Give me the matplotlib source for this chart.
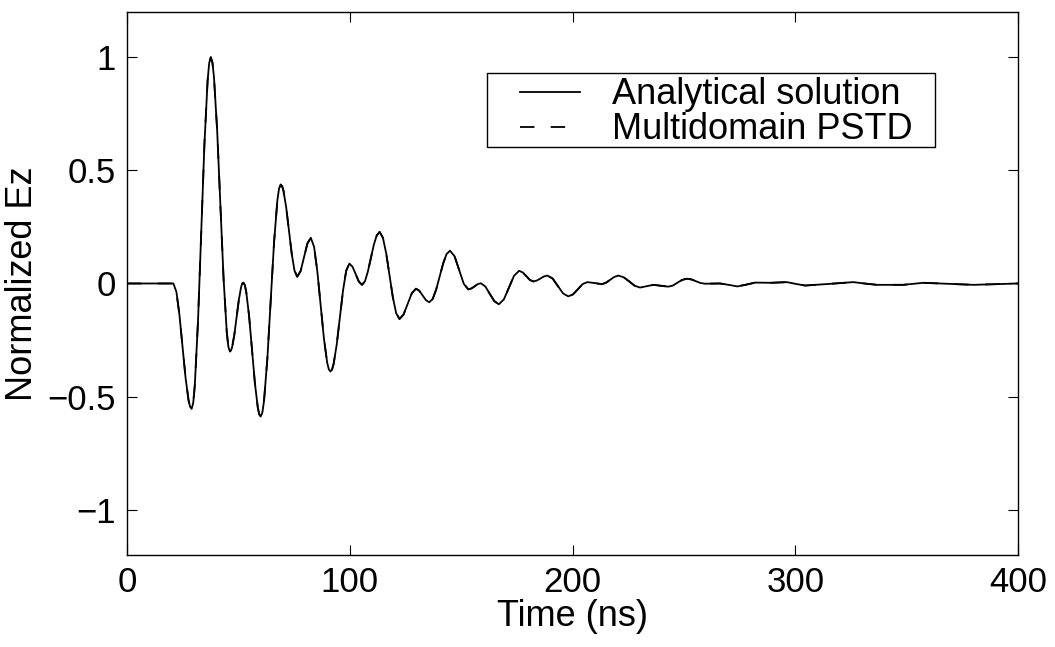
import matplotlib
matplotlib.use("Agg")
import matplotlib.pyplot as plt
from matplotlib.patches import Rectangle

# -----------------------------
# Data (time in ns, normalized Ez)
# -----------------------------
time_ns = [
    0, 20.8, 22.17, 23.53, 24.9, 26.27, 27.63, 28.32, 29.0, 29.72,
    30.43, 31.87, 33.3, 34.73, 36.17, 36.88, 37.6, 38.32,
    39.03, 40.47, 41.9, 43.33, 44.77, 45.48, 46.2, 46.7,
    47.2, 48.2, 49.2, 50.2, 51.2, 51.7, 52.2, 52.85,
    53.5, 54.8, 56.1, 57.4, 58.7, 59.35, 60.0, 60.75,
    61.5, 63.0, 64.5, 66.0, 67.5, 68.25, 69.0, 69.62,
    70.23, 71.47, 72.7, 73.93, 75.17, 76.4,
    77.93, 79.45, 80.98, 82.5,
    83.97, 85.43, 86.9, 88.37, 89.83, 90.57, 91.3, 92.01,
    92.72, 94.13, 95.55, 96.97, 98.38, 99.8,
    101.23, 102.65, 104.08, 105.5,
    106.82, 108.13, 109.45, 110.77, 112.08, 113.4,
    114.88, 116.37, 117.85, 119.33, 120.82, 122.3,
    124.15, 126.0, 127.85, 129.7,
    131.2, 132.7, 134.2, 135.7,
    137.25, 138.8, 140.35, 141.9, 143.45, 145.0,
    147.05, 149.1, 151.15, 153.2,
    154.6, 156.0, 157.4, 158.8,
    160.83, 162.85, 164.88, 166.9,
    169.18, 171.45, 173.73, 176.0,
    177.6, 179.2, 180.8, 182.4,
    183.98, 185.55, 187.13, 188.7,
    191.05, 193.4, 195.75, 198.1,
    200.23, 202.35, 204.48, 206.6,
    209.85, 213.1,
    214.98, 216.85, 218.73, 220.6,
    223.03, 225.45, 227.88, 230.3,
    233.3, 236.3, 239.65, 243.0,
    245.08, 247.15, 249.23, 251.3,
    253.35, 255.4, 257.45, 259.5,
    266.2, 270.1, 274.0, 278.0, 282.0, 289.0, 296.2, 300.3, 304.4,
    315.0, 326.0, 331.0, 336.6, 348.4, 357.5, 368.0, 380.0, 390.0, 400.0,
]

ez_analytical = [
    0, 0, -0.037, -0.139, -0.277, -0.416, -0.517, -0.545, -0.554, -0.528,
    -0.450, -0.166, 0.223, 0.612, 0.896, 0.974, 1.0, 0.978,
    0.913, 0.675, 0.350, 0.024, -0.214, -0.279, -0.301, -0.296,
    -0.281, -0.225, -0.149, -0.072, -0.016, -0.001, 0.004, -0.006,
    -0.036, -0.144, -0.292, -0.440, -0.548, -0.578, -0.588, -0.571,
    -0.519, -0.332, -0.076, 0.181, 0.368, 0.420, 0.437, 0.430,
    0.410, 0.335, 0.234, 0.132, 0.057, 0.030,
    0.055, 0.116, 0.177, 0.202,
    0.162, 0.054, -0.094, -0.241, -0.349, -0.379, -0.389, -0.381,
    -0.357, -0.270, -0.151, -0.031, 0.056, 0.088,
    0.074, 0.041, 0.008, -0.006,
    0.010, 0.053, 0.111, 0.170, 0.212, 0.228,
    0.202, 0.132, 0.036, -0.061, -0.131, -0.157,
    -0.137, -0.090, -0.043, -0.023,
    -0.032, -0.053, -0.074, -0.083,
    -0.068, -0.026, 0.031, 0.088, 0.130, 0.145,
    0.120, 0.060, -0.001, -0.026,
    -0.022, -0.013, -0.003, 0.001,
    -0.013, -0.046, -0.078, -0.092,
    -0.070, -0.018, 0.034, 0.056,
    0.049, 0.033, 0.016, 0.009,
    0.013, 0.022, 0.031, 0.035,
    0.022, -0.011, -0.044, -0.057,
    -0.048, -0.026, -0.003, 0.006,
    0.002, -0.003,
    0.003, 0.016, 0.029, 0.035,
    0.027, 0.009, -0.010, -0.018,
    -0.012, -0.006, -0.010, -0.014,
    -0.009, 0.004, 0.016, 0.021,
    0.018, 0.010, 0.002, -0.001,
    0.0, -0.006, -0.013, -0.005, 0.004, 0.003, 0.006, -0.002, -0.009,
    -0.002, 0.006, 0.0, -0.006, -0.006, 0.003, -0.001, -0.006, -0.003, 0.0,
]

# the two solutions overlap everywhere at this scale
ez_pstd = list(ez_analytical)

x_ticks = [0, 100, 200, 300, 400]
y_ticks = [-1, -0.5, 0, 0.5, 1]
y_tick_labels = ["\u22121", "\u22120.5", "0", "0.5", "1"]

# -----------------------------
# Plot
# -----------------------------
plt.rcParams["font.family"] = ["Liberation Sans", "DejaVu Sans"]
tick_fs = 25
label_fs = 26
legend_fs = 26

fig = plt.figure(figsize=(10.55, 6.47), dpi=100)
ax = fig.add_axes([0.1204, 0.1422, 0.8446, 0.8393])

ax.plot(time_ns, ez_analytical, color="black", linewidth=1.3,
        label="Analytical solution")
ax.plot(time_ns, ez_pstd, color="black", linewidth=1.3,
        dashes=(8, 9), label="Multidomain PSTD")

ax.set_xlim(0, 400)
ax.set_ylim(-1.2, 1.2)
ax.set_xticks(x_ticks)
ax.set_yticks(y_ticks)
ax.set_yticklabels(y_tick_labels)
ax.tick_params(direction="in", length=7, width=0.8, top=True, right=True,
               labelsize=tick_fs, pad=8)
for sp in ax.spines.values():
    sp.set_linewidth(1.0)

ax.set_xlabel("Time (ns)", fontsize=label_fs, labelpad=0)
ax.set_ylabel("Normalized Ez", fontsize=label_fs, labelpad=5)

# legend box (matlab style: plain black frame, wider than its contents)
ax.add_patch(Rectangle((0.404, 0.7514), 0.503, 0.1363, transform=ax.transAxes,
                       facecolor="white", edgecolor="black", linewidth=1.0,
                       zorder=4))
leg = ax.legend(loc="upper left", bbox_to_anchor=(0.441, 0.8795),
                fontsize=legend_fs, frameon=False,
                handlelength=1.66, handletextpad=0.89, borderpad=0,
                borderaxespad=0, labelspacing=0)
leg.set_zorder(5)

fig.savefig("out.png", dpi=100)
plt.close(fig)
